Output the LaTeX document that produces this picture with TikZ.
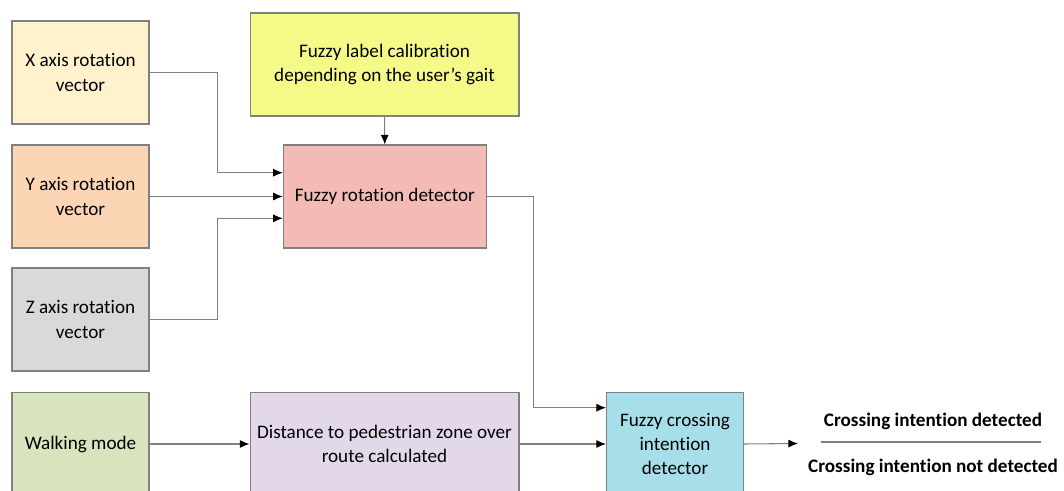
\documentclass[tikz,border=0pt]{standalone}
\usepackage{fontspec}
\setmainfont{Carlito}[Ligatures={TeX,NoCommon}]
\usetikzlibrary{arrows.meta}

\definecolor{xfill}{RGB}{255,242,204}
\definecolor{yfill}{RGB}{252,213,181}
\definecolor{zfill}{RGB}{217,217,217}
\definecolor{walkfill}{RGB}{215,228,189}
\definecolor{calibfill}{RGB}{244,249,136}
\definecolor{rotfill}{RGB}{243,186,182}
\definecolor{distfill}{RGB}{226,216,233}
\definecolor{crossfill}{RGB}{166,222,234}
\definecolor{boxline}{RGB}{128,128,128}

\begin{document}
\begin{tikzpicture}[x=0.02cm, y=-0.02cm]
        \def\boxw{2.74cm}
        \def\boxh{2.06cm}
        \tikzstyle{box} = [draw=boxline, line width=0.6pt, minimum width=\boxw, minimum height=\boxh, align=center, inner sep=2pt, font=\fontsize{10.9}{13.7}\selectfont]
        \tikzstyle{widebox} = [box, minimum width=5.38cm]
        \tikzstyle{link} = [draw=boxline, line width=0.6pt, -{Latex[black, length=5.5pt, width=4.6pt]}]
        \tikzstyle{outtext} = [font=\fontsize{10.9}{13.7}\selectfont\bfseries, inner sep=1pt]
        \useasboundingbox (0,0) rectangle (1064,490);
        % Draw the three rotation vector boxes on the left
        \foreach \ax/\yy/\col in {X/72.5/xfill, Y/196.5/yfill, Z/319.5/zfill} {
            \node[box, fill=\col] (rot\ax) at (80.5,\yy) {\ax{} axis rotation\\vector};
        }
        % Draw the walking mode box (runs past the bottom edge)
        \node[box, fill=walkfill] (walk) at (80.5,444) {Walking mode};
        % Draw the calibration box and the rotation detector below it
        \node[widebox, fill=calibfill] (calib) at (384.5,64.5) {Fuzzy label calibration\\depending on the user's gait};
        \node[box, fill=rotfill, minimum width=4.06cm] (rotdet) at (384.8,196.5) {Fuzzy rotation detector};
        % Draw the distance box and the crossing detector
        \node[widebox, fill=distfill] (dist) at (384.5,444) {Distance to pedestrian zone over\\route calculated};
        \node[box, fill=crossfill] (crossdet) at (675,444) {Fuzzy crossing\\intention\\detector};
        % Connect the rotation vectors to the rotation detector
        \draw[link] (rotX.east) -- ++(68,0) |- ([yshift=0.476cm]rotdet.west);
        \draw[link] (rotY.east) -- (rotdet.west);
        \draw[link] (rotZ.east) -- ++(68,0) |- ([yshift=-0.436cm]rotdet.west);
        \draw[link] (calib.south) -- (rotdet.north);
        % Connect everything to the crossing detector
        \draw[link] (rotdet.east) -- ++(47,0) |- ([yshift=0.726cm]crossdet.west);
        \draw[link] (walk.east) -- (dist.west);
        \draw[link] (dist.east) -- (crossdet.west);
        % Draw the two possible outputs with a line between them
        \coordinate (outtip) at (798,443.5);
        \draw[link] (crossdet.east) -- (outtip);
        \node[outtext] (outyes) at (933,421) {Crossing intention detected};
        \node[outtext] (outno) at (933,467) {Crossing intention not detected};
        \coordinate (sepl) at (821,442);
        \coordinate (sepr) at (1041,442);
        \draw[boxline, line width=0.6pt] (sepl) -- (sepr);
    \end{tikzpicture}
\end{document}
